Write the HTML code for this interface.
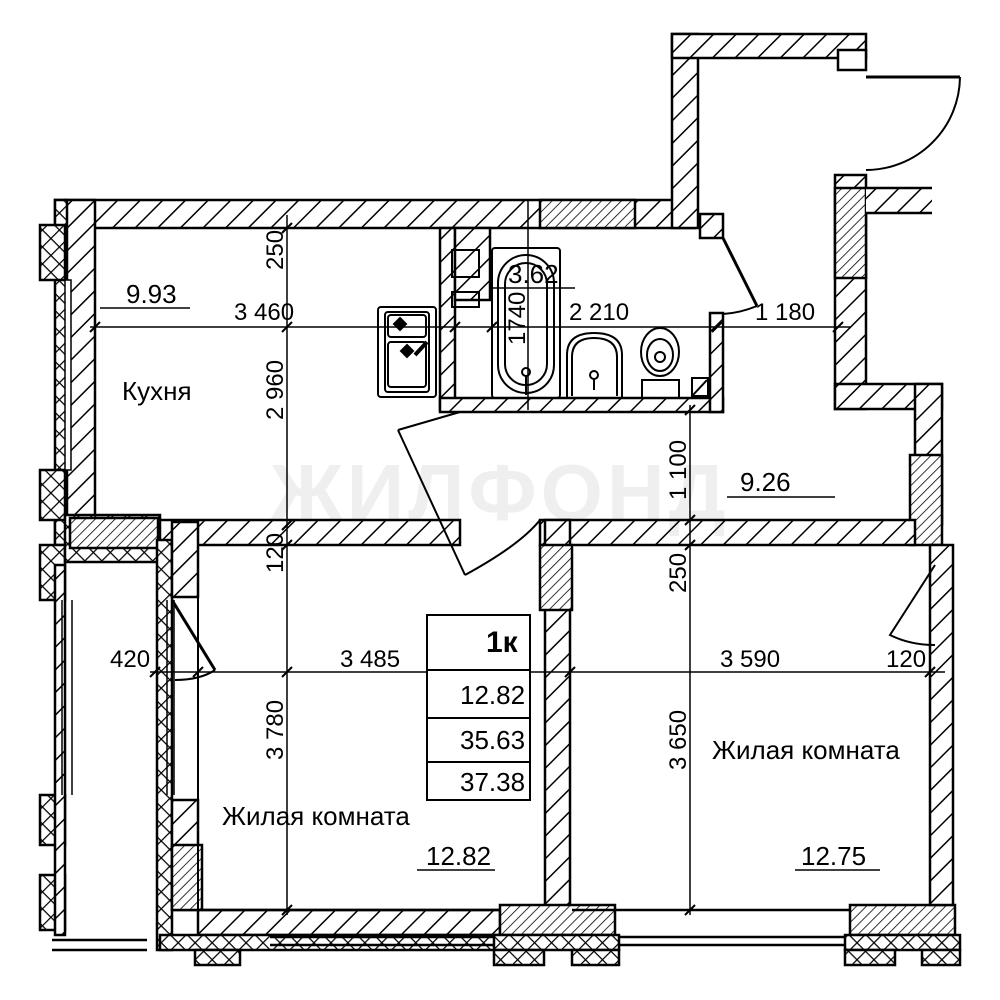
<!DOCTYPE html>
<html><head><meta charset="utf-8"><style>
html,body{margin:0;padding:0;background:#fff}
svg{display:block}
text{font-family:"Liberation Sans",sans-serif;fill:#000}
</style></head><body>
<svg width="1000" height="1000" viewBox="0 0 1000 1000" xmlns="http://www.w3.org/2000/svg">
<defs>
<pattern id="h" width="16" height="16" patternUnits="userSpaceOnUse" patternTransform="rotate(45)">
<rect width="16" height="16" fill="#fff"/><line x1="0" y1="0" x2="0" y2="16" stroke="#000" stroke-width="3"/></pattern>
<pattern id="hd" width="7" height="7" patternUnits="userSpaceOnUse" patternTransform="rotate(45)">
<rect width="7" height="7" fill="#fff"/><line x1="0" y1="0" x2="0" y2="7" stroke="#000" stroke-width="1.6"/></pattern>
<pattern id="x" width="12" height="12" patternUnits="userSpaceOnUse" patternTransform="rotate(45)">
<rect width="12" height="12" fill="#fff"/><line x1="0" y1="0" x2="0" y2="12" stroke="#000" stroke-width="2.5"/><line x1="0" y1="0" x2="12" y2="0" stroke="#000" stroke-width="2.5"/></pattern>
</defs>
<g stroke="#000" stroke-width="2.5">
<rect x="55" y="200" width="640" height="28" fill="url(#h)"/>
<rect x="540" y="200" width="95" height="28" fill="url(#hd)"/>
<rect x="672" y="34" width="26" height="194" fill="url(#h)"/>
<rect x="672" y="34" width="194" height="24" fill="url(#h)"/>
<rect x="838" y="50" width="28" height="20" fill="#fff"/>
<rect x="835" y="175" width="31" height="234" fill="url(#h)"/>
<rect x="835" y="188" width="31" height="90" fill="url(#hd)"/>
<rect x="866" y="188" width="66" height="25" fill="url(#h)" stroke-width="0"/>
<line x1="866" y1="188" x2="932" y2="188"/><line x1="866" y1="213" x2="932" y2="213"/>
<rect x="835" y="384" width="107" height="25" fill="url(#h)"/>
<rect x="915" y="384" width="27" height="140" fill="url(#h)"/>
<rect x="910" y="455" width="32" height="90" fill="url(#hd)"/>
<rect x="700" y="214" width="23" height="24" fill="url(#h)"/>
<rect x="440" y="228" width="15" height="182" fill="url(#h)"/>
<rect x="455" y="228" width="35" height="72" fill="url(#h)"/>
<rect x="440" y="398" width="283" height="14" fill="url(#h)"/>
<rect x="710" y="313" width="13" height="99" fill="url(#h)"/>
<rect x="55" y="520" width="405" height="25" fill="url(#h)"/>
<rect x="540" y="520" width="375" height="25" fill="url(#h)"/>
<rect x="65" y="200" width="30" height="320" fill="url(#h)"/>
<rect x="55" y="200" width="12" height="345" fill="url(#x)"/>
<rect x="40" y="225" width="25" height="55" fill="url(#x)"/>
<rect x="40" y="470" width="25" height="50" fill="url(#x)"/>
<rect x="65" y="280" width="6" height="190" fill="#fff" stroke-width="1.5"/>
<rect x="40" y="545" width="25" height="55" fill="url(#x)"/>
<rect x="65" y="515" width="95" height="47" fill="url(#x)"/>
<rect x="70" y="518" width="88" height="30" fill="url(#hd)"/>
<rect x="157" y="540" width="15" height="410" fill="url(#x)"/>
<rect x="172" y="522" width="26" height="75" fill="url(#h)"/>
<rect x="172" y="800" width="26" height="110" fill="url(#h)"/>
<rect x="172" y="845" width="30" height="65" fill="url(#hd)"/>
<rect x="40" y="795" width="25" height="50" fill="url(#x)"/>
<rect x="40" y="875" width="25" height="55" fill="url(#x)"/>
<rect x="55" y="565" width="10" height="370" fill="url(#h)"/>
<line x1="72" y1="600" x2="72" y2="795" stroke-width="1.5"/><line x1="62" y1="600" x2="62" y2="795" stroke-width="1.5"/>
<line x1="52" y1="940" x2="147" y2="940"/><line x1="52" y1="950" x2="147" y2="950"/>
<line x1="167" y1="600" x2="167" y2="795" stroke-width="1.5"/><line x1="174" y1="600" x2="174" y2="795" stroke-width="1.5"/>
<line x1="198" y1="530" x2="198" y2="910" stroke-width="2"/>
<rect x="545" y="520" width="25" height="390" fill="url(#h)"/>
<rect x="540" y="545" width="32" height="65" fill="url(#hd)"/>
<rect x="198" y="910" width="302" height="25" fill="url(#h)"/>
<rect x="160" y="935" width="340" height="15" fill="url(#x)"/>
<rect x="500" y="905" width="115" height="30" fill="url(#hd)"/>
<rect x="494" y="935" width="125" height="15" fill="url(#x)"/>
<rect x="494" y="950" width="50" height="15" fill="url(#x)"/><rect x="572" y="950" width="47" height="15" fill="url(#x)"/>
<rect x="195" y="950" width="45" height="15" fill="url(#x)"/>
<line x1="270" y1="937" x2="494" y2="937"/><line x1="270" y1="945" x2="494" y2="945"/>
<line x1="619" y1="937" x2="845" y2="937"/><line x1="619" y1="945" x2="845" y2="945"/>
<rect x="850" y="905" width="105" height="30" fill="url(#hd)"/>
<rect x="845" y="935" width="115" height="15" fill="url(#x)"/>
<rect x="845" y="950" width="50" height="15" fill="url(#x)"/><rect x="922" y="950" width="38" height="15" fill="url(#x)"/>
<rect x="930" y="545" width="23" height="360" fill="url(#h)"/>
<line x1="572" y1="910" x2="850" y2="910"/>
<line x1="200" y1="910" x2="500" y2="910"/>
</g>
<g fill="none" stroke="#000" stroke-width="2">
<line x1="866" y1="77" x2="960" y2="77" stroke-width="3"/>
<path d="M960 77 A94 94 0 0 1 866 170"/>
<line x1="723" y1="238" x2="757" y2="306" stroke-width="3"/>
<path d="M757 306 Q740 313 723 314"/>
<path d="M398 430 L460 412 M398 430 L465 575 M465 575 Q520 545 540 520"/>
<line x1="172" y1="600" x2="215" y2="670" stroke-width="3"/>
<path d="M215 670 Q200 680 175 680"/>
<path d="M935 565 L890 635 Q910 645 935 645"/>
<rect x="378" y="307" width="58" height="90" rx="3"/>
<rect x="385" y="312" width="44" height="80" rx="3"/>
<rect x="388" y="315" width="38" height="22" rx="3"/><rect x="388" y="342" width="38" height="45" rx="3"/>
<path d="M400 318 l6 6 -6 6 -6 -6z M407 345 l6 6 -6 6 -6 -6z" fill="#000"/>
<line x1="415" y1="355" x2="427" y2="342" stroke-width="4"/>
<rect x="452" y="250" width="27" height="27"/><rect x="452" y="292" width="27" height="15"/>
<rect x="492" y="248" width="68" height="150" rx="3"/>
<rect x="498" y="255" width="56" height="138" rx="28"/>
<rect x="505" y="263" width="42" height="122" rx="21"/>
<circle cx="526" cy="372" r="4"/><line x1="526" y1="376" x2="526" y2="395"/>
<path d="M567 398 L567 355 Q567 333 594 333 Q622 333 622 355 L622 398"/>
<path d="M572 396 L572 357 Q572 338 594 338 Q617 338 617 357 L617 396"/>
<circle cx="594" cy="375" r="4"/><line x1="594" y1="379" x2="594" y2="390"/>
<ellipse cx="660" cy="352" rx="19" ry="24"/><ellipse cx="660" cy="355" rx="13" ry="16"/>
<circle cx="660" cy="357" r="5"/>
<rect x="642" y="380" width="37" height="18"/>
<rect x="692" y="378" width="16" height="18"/><line x1="693" y1="395" x2="707" y2="380"/>
</g>
<g stroke="#000" stroke-width="1.5">
<line x1="90" y1="327" x2="850" y2="327"/>
<line x1="287" y1="215" x2="287" y2="915"/>
<line x1="150" y1="672" x2="945" y2="672"/>
<line x1="690" y1="405" x2="690" y2="915"/>
<line x1="528" y1="200" x2="528" y2="410"/>
<line x1="100" y1="308" x2="190" y2="308"/>
<line x1="727" y1="497" x2="835" y2="497"/>
<line x1="417" y1="870" x2="495" y2="870"/>
<line x1="795" y1="870" x2="880" y2="870"/>
<line x1="493" y1="288" x2="575" y2="288"/>
<g stroke-width="2">
<line x1="282" y1="233" x2="292" y2="223"/><line x1="282" y1="332" x2="292" y2="322"/><line x1="282" y1="530" x2="292" y2="520"/><line x1="282" y1="550" x2="292" y2="540"/><line x1="282" y1="677" x2="292" y2="667"/><line x1="282" y1="915" x2="292" y2="905"/>
<line x1="90" y1="332" x2="100" y2="322"/><line x1="450" y1="332" x2="460" y2="322"/><line x1="487" y1="332" x2="497" y2="322"/><line x1="712" y1="332" x2="722" y2="322"/><line x1="833" y1="332" x2="843" y2="322"/>
<line x1="150" y1="677" x2="160" y2="667"/><line x1="193" y1="677" x2="203" y2="667"/><line x1="565" y1="677" x2="575" y2="667"/><line x1="925" y1="677" x2="935" y2="667"/>
<line x1="685" y1="415" x2="695" y2="405"/><line x1="685" y1="525" x2="695" y2="515"/><line x1="685" y1="550" x2="695" y2="540"/><line x1="685" y1="915" x2="695" y2="905"/>
</g></g>
<text x="500" y="520" font-size="80" font-weight="bold" text-anchor="middle" fill="#000" opacity="0.06" letter-spacing="4">ЖИЛФОНД</text>
<g fill="#fff" stroke="#000" stroke-width="2">
<rect x="427" y="615" width="103" height="185"/>
<line x1="427" y1="670" x2="530" y2="670"/><line x1="427" y1="718" x2="530" y2="718"/><line x1="427" y1="762" x2="530" y2="762"/>
</g>
<g font-size="26">
<text x="486" y="652" font-size="30" font-weight="bold">1к</text>
<text x="460" y="704">12.82</text>
<text x="460" y="749">35.63</text>
<text x="460" y="791">37.38</text>
<text x="126" y="303">9.93</text>
<text x="122" y="400">Кухня</text>
<text x="740" y="491">9.26</text>
<text x="222" y="825">Жилая комната</text>
<text x="426" y="865">12.82</text>
<text x="712" y="759">Жилая комната</text>
<text x="801" y="865">12.75</text>
<text x="234" y="320" font-size="24">3 460</text>
<text x="569" y="320" font-size="24">2 210</text>
<text x="755" y="320" font-size="24">1 180</text>
<text x="110" y="667" font-size="24">420</text>
<text x="340" y="667" font-size="24">3 485</text>
<text x="720" y="667" font-size="24">3 590</text>
<text x="886" y="667" font-size="24">120</text>
<text x="508" y="283" font-size="26">3.62</text>
<g font-size="24">
<g transform="translate(283,270) rotate(-90)"><text x="0" y="0">250</text></g>
<g transform="translate(283,420) rotate(-90)"><text x="0" y="0">2 960</text></g>
<g transform="translate(283,573) rotate(-90)"><text x="0" y="0">120</text></g>
<g transform="translate(283,760) rotate(-90)"><text x="0" y="0">3 780</text></g>
<g transform="translate(686,500) rotate(-90)"><text x="0" y="0">1 100</text></g>
<g transform="translate(686,593) rotate(-90)"><text x="0" y="0">250</text></g>
<g transform="translate(686,770) rotate(-90)"><text x="0" y="0">3 650</text></g>
<g transform="translate(525,345) rotate(-90)"><text x="0" y="0">1740</text></g>
</g>
</g>
</svg>
</body></html>
